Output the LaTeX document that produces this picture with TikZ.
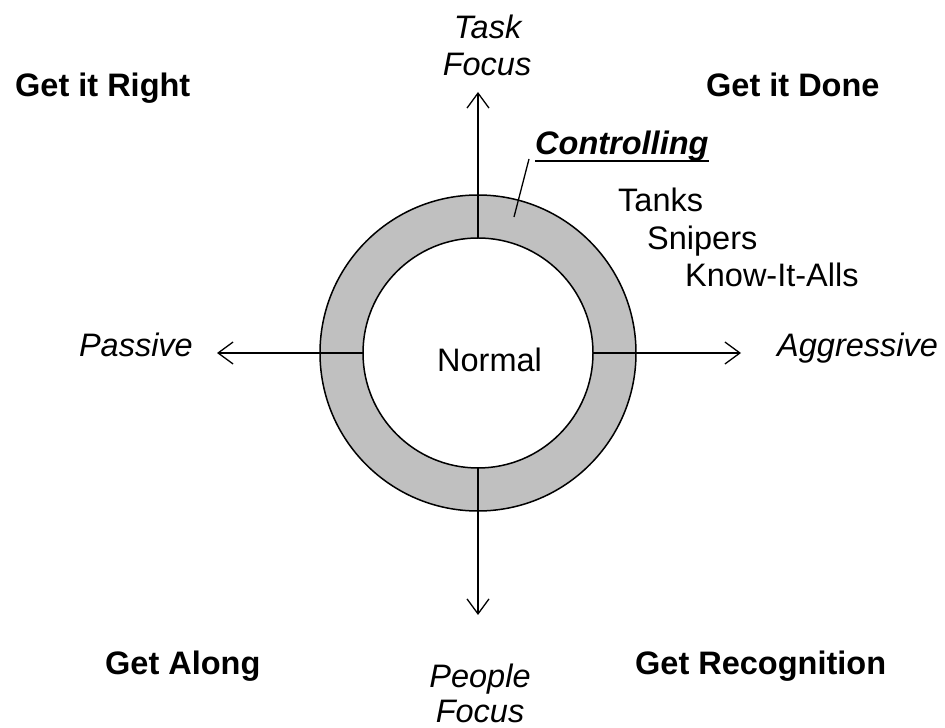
\documentclass[tikz,border=0pt]{standalone}
\usepackage{fontspec}
\setmainfont{Liberation Sans}
\usetikzlibrary{arrows.meta}
\begin{document}
\begin{tikzpicture}[x=1pt,y=1pt,
  txt/.style={inner sep=0pt,font=\fontsize{32.5}{37.5}\selectfont},
  itxt/.style={txt,font=\fontsize{32.5}{37.5}\selectfont\itshape},
  btxt/.style={txt,font=\fontsize{32.5}{37.5}\selectfont\bfseries},
  axis/.style={line width=1.3pt,-{Straight Barb[length=15pt,width=22pt,line width=1.3pt]}},
  ringline/.style={line width=1.5pt}]
\useasboundingbox (0,0) rectangle (945,728);
% ring
\coordinate (c) at (478,375);
\filldraw[ringline,fill={rgb,255:red,192;green,192;blue,192}] (c) circle[radius=158];
\filldraw[ringline,fill=white] (c) circle[radius=115];
\coordinate (inN) at (478,490);
\coordinate (inS) at (478,260);
\coordinate (inW) at (363,375);
\coordinate (inE) at (593,375);
\coordinate (tipN) at (478,636);
\coordinate (tipS) at (478,113);
\coordinate (tipW) at (217,375);
\coordinate (tipE) at (741,375);
\draw[axis] (inN) -- (tipN);
\draw[axis] (inS) -- (tipS);
\draw[axis] (inW) -- (tipW);
\draw[axis] (inE) -- (tipE);
% texts
\node[txt,anchor=base west] (normal) at (437,356) {Normal};
\node[itxt,anchor=base] (task) at (487.5,689) {Task};
\node[itxt,anchor=base] (tfocus) at (487,652) {Focus};
\node[itxt,anchor=base] (people) at (480,40) {People};
\node[itxt,anchor=base] (pfocus) at (480,5) {Focus};
\node[itxt,anchor=base east] (passive) at (193,371) {Passive};
\node[itxt,anchor=base west] (aggr) at (777,371) {Aggressive};
\node[btxt,anchor=base west] (right) at (15,631) {Get it Right};
\node[btxt,anchor=base west] (done) at (706,631) {Get it Done};
\node[btxt,anchor=base west] (along) at (105,53) {Get Along};
\node[btxt,anchor=base west] (recog) at (635,53) {Get Recognition};
\node[txt,anchor=base west] (tanks) at (618,516) {Tanks};
\node[txt,anchor=base west] (snipers) at (647,478) {Snipers};
\node[txt,anchor=base west] (know) at (685,441) {Know-It-Alls};
\node[txt,font=\fontsize{32.5}{37.5}\selectfont\bfseries\itshape,anchor=base west] (ctl) at (535,573) {Controlling};
\draw[line width=2.6pt] ([yshift=-6pt]ctl.base west) -- ([yshift=-6pt]ctl.base east);
\coordinate (ptrA) at (529,569);
\coordinate (ptrB) at (514,511);
\draw[line width=1.3pt] (ptrA) -- (ptrB);
\end{tikzpicture}
\end{document}
